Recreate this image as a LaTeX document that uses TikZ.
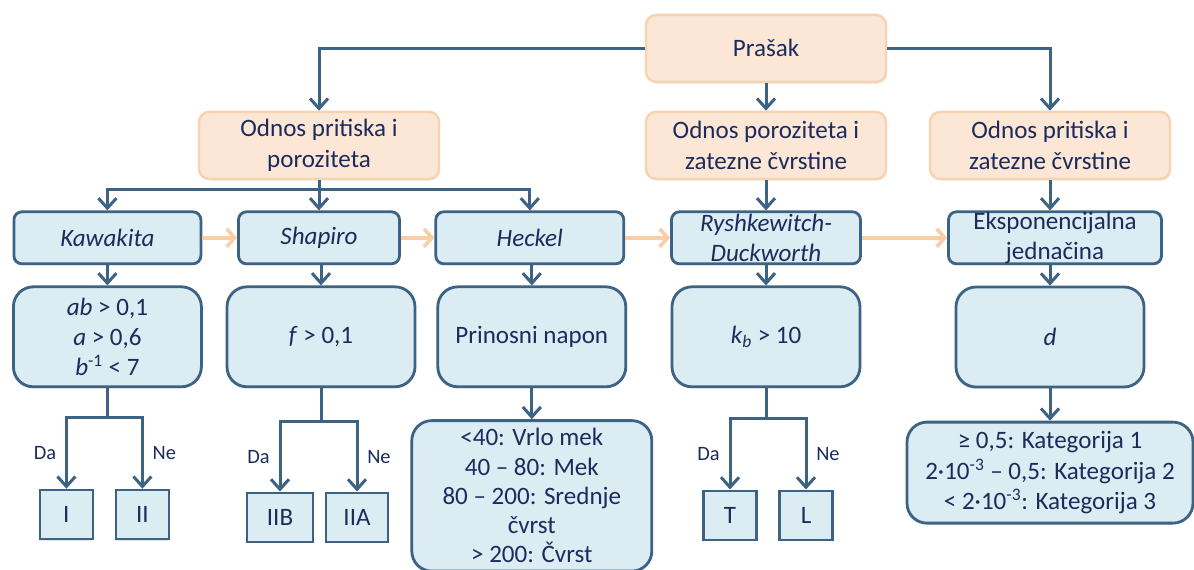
\documentclass[tikz,border=0pt]{standalone}
\usepackage{fontspec}
\setmainfont{Carlito}
\usetikzlibrary{positioning,arrows.meta,shadows}
\definecolor{lnc}{HTML}{3D6384}
\definecolor{bxc}{HTML}{DBECF3}
\definecolor{orc}{HTML}{FCE6D6}
\definecolor{obc}{HTML}{F8D3B2}
\definecolor{txc}{HTML}{1B2B5C}
\definecolor{arc}{HTML}{F9CDA6}

\begin{document}
\begin{tikzpicture}[node distance=24mm, font=\fontsize{17.8}{21.5}\selectfont, text=txc,
    topic/.style={rectangle, rounded corners=2.5mm, draw=obc, fill=orc, line width=0.6mm, minimum width=60mm, minimum height=16.75mm, align=center, inner sep=0pt, drop shadow={opacity=0.2, shadow xshift=0.3mm, shadow yshift=-0.4mm}},
    method/.style={rectangle, rounded corners=2mm, draw=lnc, fill=bxc, line width=0.7mm, minimum height=13mm, align=center, inner sep=0pt, drop shadow={opacity=0.2, shadow xshift=-0.3mm, shadow yshift=-0.4mm}},
    crit/.style={rectangle, rounded corners=5mm, draw=lnc, fill=bxc, line width=0.7mm, minimum width=47mm, minimum height=25mm, align=center, drop shadow={opacity=0.2, shadow xshift=-0.3mm, shadow yshift=-0.4mm}},
    result/.style={rectangle, rounded corners=5mm, draw=lnc, fill=bxc, line width=0.7mm, align=center, inner xsep=0pt, inner ysep=2mm, drop shadow={opacity=0.2, shadow xshift=-0.3mm, shadow yshift=-0.4mm}},
    leaf/.style={rectangle, draw=lnc, fill=bxc, line width=0.6mm, minimum width=13.25mm, minimum height=12.25mm, inner sep=0pt, drop shadow={opacity=0.2, shadow xshift=-0.3mm, shadow yshift=-0.4mm}},
    link/.style={draw=lnc, line width=0.75mm, -{Straight Barb[length=2.5mm, width=4.5mm]}},
    trunk/.style={draw=lnc, line width=0.75mm},
    next/.style={draw=arc, line width=0.9mm, -{Straight Barb[length=2mm, width=4.5mm]}},
    yn/.style={font=\fontsize{14.5}{16}\selectfont, inner sep=2.2mm}]

    \useasboundingbox (0,0) rectangle (298.5mm,-142.25mm);

    \node[topic] (prasak) at (191.5mm,-12.1mm) {Prašak};
    \node[topic, below of=prasak, node distance=24.25mm] (odnos2) {Odnos poroziteta i\\zatezne čvrstine};
    \node[topic, left of=odnos2, node distance=111.75mm] (odnos1) {Odnos pritiska i\\poroziteta};
    \node[topic, right of=odnos2, node distance=71mm] (odnos3) {Odnos pritiska i\\zatezne čvrstine};

    \node[method, below of=odnos1, node distance=23.1mm, minimum width=40.25mm] (shapiro) {\textit{Shapiro}};
    \node[method, left of=shapiro, node distance=52.9mm, minimum width=46.75mm] (kawakita) {\textit{Kawakita}};
    \node[method, right of=shapiro, node distance=52.7mm, minimum width=47mm] (heckel) {\textit{Heckel}};
    \node[method, below of=odnos2, node distance=23.1mm, minimum width=47.25mm] (rysh) {\textit{Ryshkewitch-}\\\textit{Duckworth}};
    \node[method, right of=rysh, node distance=72.25mm, minimum width=53.25mm] (eksp) {Eksponencijalna\\jednačina};
    \node[coordinate, below of=odnos1, node distance=10.9mm] (j0) {};

    \node[crit, below of=kawakita, node distance=24.75mm] (b1) {\textit{ab} > 0,1\\\textit{a} > 0,6\\\textit{b}\textsuperscript{-1} < 7};
    \node[crit, below of=shapiro, node distance=24.75mm, xshift=0.5mm] (b2) {\textit{f} > 0,1};
    \node[crit, below of=heckel, node distance=24.75mm, xshift=0.5mm] (b3) {Prinosni napon};
    \node[crit, below of=rysh, node distance=24.75mm] (b4) {\textit{k}\textsubscript{\textit{b}} > 10};
    \node[crit, below of=odnos3, node distance=47.9mm] (b5) {\textit{d}};

    \node[coordinate, below of=b1, node distance=20.25mm] (j1) {};
    \node[coordinate, below of=b2, node distance=21.25mm] (j2) {};
    \node[coordinate, below of=b4, node distance=20.5mm] (j4) {};

    \node[leaf, below of=b1, node distance=44.4mm, xshift=-10.25mm] (I) {I};
    \node[leaf, below of=b1, node distance=44.4mm, xshift=8.75mm] (II) {II};
    \node[leaf, below of=b2, node distance=45.1mm, xshift=-10.25mm, minimum width=16.5mm] (IIB) {IIB};
    \node[leaf, below of=b2, node distance=45.1mm, xshift=9mm, minimum width=15.5mm] (IIA) {IIA};
    \node[leaf, below of=b4, node distance=44.6mm, xshift=-9mm] (T) {T};
    \node[leaf, below of=b4, node distance=44.6mm, xshift=10mm] (L) {L};

    \node[result, below=7.75mm of b3, minimum width=60mm, font=\fontsize{17.8}{20.8}\selectfont] (rez3) {<40: Vrlo mek\\40 – 80: Mek\\80 – 200: Srednje\\čvrst\\> 200: Čvrst};
    \node[result, below of=b5, node distance=33.9mm, minimum width=71.5mm, minimum height=25.25mm] (rez5) {≥ 0,5: Kategorija 1\\2·10\textsuperscript{-3} – 0,5: Kategorija 2\\< 2·10\textsuperscript{-3}: Kategorija 3};

    \draw[link] (prasak) -| (odnos1);
    \draw[link] (prasak) -| (odnos3);
    \draw[link] (prasak) -- (odnos2);

    \draw[trunk] (odnos1) -- (j0);
    \draw[link] (j0) -| (kawakita);
    \draw[link] (j0) -- (shapiro);
    \draw[link] (j0) -| (heckel);
    \draw[link] (odnos2) -- (rysh);
    \draw[link] (odnos3) -- (odnos3 |- eksp.north);

    \draw[next] (kawakita) -- (shapiro);
    \draw[next] (shapiro) -- (heckel);
    \draw[next] (heckel) -- (rysh);
    \draw[next] (rysh) -- (eksp);

    \draw[link] (kawakita) -- (b1);
    \draw[link] (shapiro.south -| b2) -- (b2);
    \draw[link] (heckel.south -| b3) -- (b3);
    \draw[link] (rysh) -- (b4);
    \draw[link] (eksp.south -| b5) -- (b5);

    \draw[trunk] (b1) -- (j1);
    \draw[link] (j1) -| node[yn, left, pos=0.75] {Da} (I);
    \draw[link] (j1) -| node[yn, right, pos=0.75] {Ne} (II);
    \draw[trunk] (b2) -- (j2);
    \draw[link] (j2) -| node[yn, left, pos=0.75] {Da} (IIB);
    \draw[link] (j2) -| node[yn, right, pos=0.75] {Ne} (IIA);
    \draw[trunk] (b4) -- (j4);
    \draw[link] (j4) -| node[yn, left, pos=0.75] {Da} (T);
    \draw[link] (j4) -| node[yn, right, pos=0.75] {Ne} (L);

    \draw[link] (b3) -- (rez3);
    \draw[link] (b5) -- (rez5);

  \end{tikzpicture}
\end{document}
